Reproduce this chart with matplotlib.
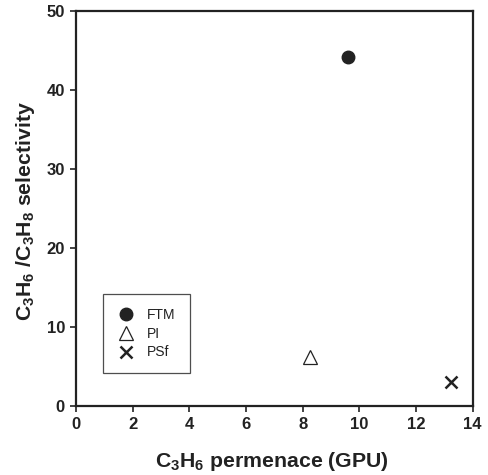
import matplotlib
matplotlib.use("Agg")
import matplotlib.pyplot as plt

plt.rcParams['font.family'] = ['Liberation Sans', 'DejaVu Sans']
plt.rcParams['mathtext.fontset'] = 'custom'
plt.rcParams['mathtext.rm'] = 'Liberation Sans:bold'
plt.rcParams['mathtext.bf'] = 'Liberation Sans:bold'
plt.rcParams['mathtext.it'] = 'Liberation Sans:bold'

names = ["FTM", "PI", "PSf"]
permeance = [9.61, 8.26, 13.24]
selectivity = [44.2, 6.2, 3.0]
xticks = [0, 2, 4, 6, 8, 10, 12, 14]
yticks = [0, 10, 20, 30, 40, 50]

ink = "#222222"
fig = plt.figure(figsize=(4.89, 4.75), dpi=100)
ax = fig.add_axes([76/489, 1-405.7/475, (472.7-76)/489, (405.7-10.7)/475])

ax.plot(permeance[0], selectivity[0], 'o', ms=9, color=ink, mec=ink, label=names[0], linestyle='none')
ax.plot(permeance[1], selectivity[1], '^', ms=10, mfc='white', mec=ink, mew=0.9, label=names[1], linestyle='none')
ax.plot(permeance[2], selectivity[2], 'x', ms=9, color=ink, mew=1.8, label=names[2], linestyle='none')

ax.set_xlim(0, 14)
ax.set_ylim(0, 50)
ax.set_xticks(xticks)
ax.set_yticks(yticks)
for s in ax.spines.values():
    s.set_linewidth(1.6)
    s.set_color(ink)
ax.tick_params(direction='out', length=4, width=1.2, color=ink, labelsize=12, labelcolor=ink, pad=4)
for lab in ax.get_xticklabels() + ax.get_yticklabels():
    lab.set_fontweight('bold')

ax.set_xlabel(r"C$_3$H$_6$ permenace (GPU)", fontsize=15.3, fontweight='bold', color=ink)
ax.set_ylabel(r"C$_3$H$_6$ /C$_3$H$_8$ selectivity", fontsize=15.3, fontweight='bold', color=ink)
ax.xaxis.set_label_coords(0.493, -0.112)
ax.yaxis.set_label_coords(-0.098, 0.493)

leg = ax.legend(loc='lower left', bbox_to_anchor=((102.7-76)/396.7, (405.7-373.3)/395), frameon=True,
                fancybox=False, edgecolor=ink, fontsize=10, handletextpad=0.8, borderpad=1.0,
                labelspacing=0.35, handlelength=1.4, borderaxespad=0)
leg.get_frame().set_linewidth(0.9)
for t in leg.get_texts():
    t.set_color(ink)

fig.savefig("out.png", dpi=100)
